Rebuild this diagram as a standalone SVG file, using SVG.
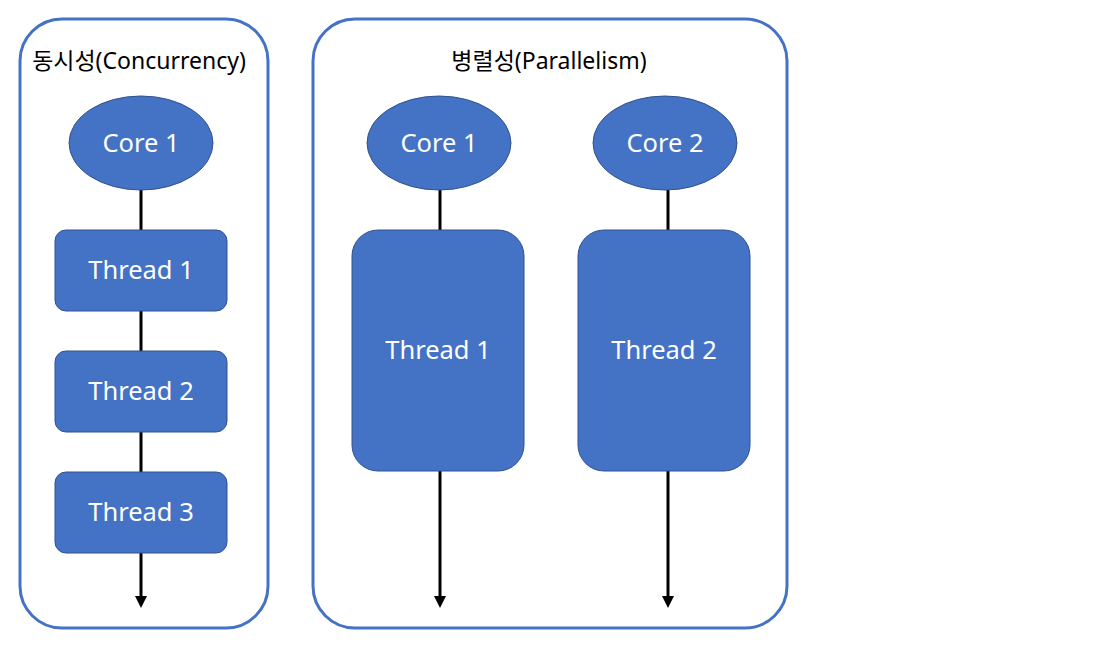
<svg xmlns="http://www.w3.org/2000/svg" width="1110" height="649" viewBox="0 0 1110 649">
<defs>
<style>
.box{fill:#fff;stroke:#4472C4;stroke-width:3}
.node{fill:#4472C4;stroke:#2F528F;stroke-width:1}
.lbl{fill:#fff;font-family:"Noto Sans","Noto Sans CJK KR",sans-serif;font-size:25.5px;text-anchor:middle;dominant-baseline:central}
.title{fill:#000;font-family:"Noto Sans","Noto Sans CJK KR",sans-serif;font-size:23px;text-anchor:middle}
.conn{stroke:#000;stroke-width:3;fill:none}
</style>
<marker id="arr" viewBox="0 0 10 10" refX="5" refY="5" markerWidth="4" markerHeight="4" orient="auto" markerUnits="strokeWidth">
<path d="M0,0 L10,5 L0,10 z" fill="#000"/>
</marker>
</defs>
<rect width="1110" height="649" fill="#fff"/>
<g id="concurrency">
<rect class="box" x="20" y="19" width="248" height="609" rx="42"/>
<text class="title" x="139" y="69">동시성(Concurrency)</text>
</g>
<g id="parallelism">
<rect class="box" x="313" y="19" width="474" height="609" rx="42"/>
<text class="title" x="549" y="69">병렬성(Parallelism)</text>
</g>
<g id="connectors">
<line class="conn" x1="141" y1="190" x2="141" y2="230"/>
<line class="conn" x1="141" y1="311" x2="141" y2="351"/>
<line class="conn" x1="141" y1="432" x2="141" y2="472"/>
<line class="conn" x1="141" y1="553" x2="141" y2="602" marker-end="url(#arr)"/>
<line class="conn" x1="440" y1="190" x2="440" y2="230"/>
<line class="conn" x1="440" y1="471" x2="440" y2="602" marker-end="url(#arr)"/>
<line class="conn" x1="668" y1="190" x2="668" y2="230"/>
<line class="conn" x1="668" y1="471" x2="668" y2="602" marker-end="url(#arr)"/>
</g>
<g id="c-core1">
<ellipse class="node" cx="141" cy="143" rx="72" ry="47"/>
<text class="lbl" x="141" y="142">Core 1</text>
</g>
<g id="c-thread1">
<rect class="node" x="55" y="230" width="172" height="81" rx="11"/>
<text class="lbl" x="141" y="269">Thread 1</text>
</g>
<g id="c-thread2">
<rect class="node" x="55" y="351" width="172" height="81" rx="11"/>
<text class="lbl" x="141" y="390">Thread 2</text>
</g>
<g id="c-thread3">
<rect class="node" x="55" y="472" width="172" height="81" rx="11"/>
<text class="lbl" x="141" y="511">Thread 3</text>
</g>
<g id="p-core1">
<ellipse class="node" cx="439" cy="143" rx="72" ry="47"/>
<text class="lbl" x="439" y="142">Core 1</text>
</g>
<g id="p-core2">
<ellipse class="node" cx="665" cy="143" rx="72" ry="47"/>
<text class="lbl" x="665" y="142">Core 2</text>
</g>
<g id="p-thread1">
<rect class="node" x="352" y="230" width="172" height="241" rx="26"/>
<text class="lbl" x="438" y="349">Thread 1</text>
</g>
<g id="p-thread2">
<rect class="node" x="578" y="230" width="172" height="241" rx="26"/>
<text class="lbl" x="664" y="349">Thread 2</text>
</g>
</svg>
